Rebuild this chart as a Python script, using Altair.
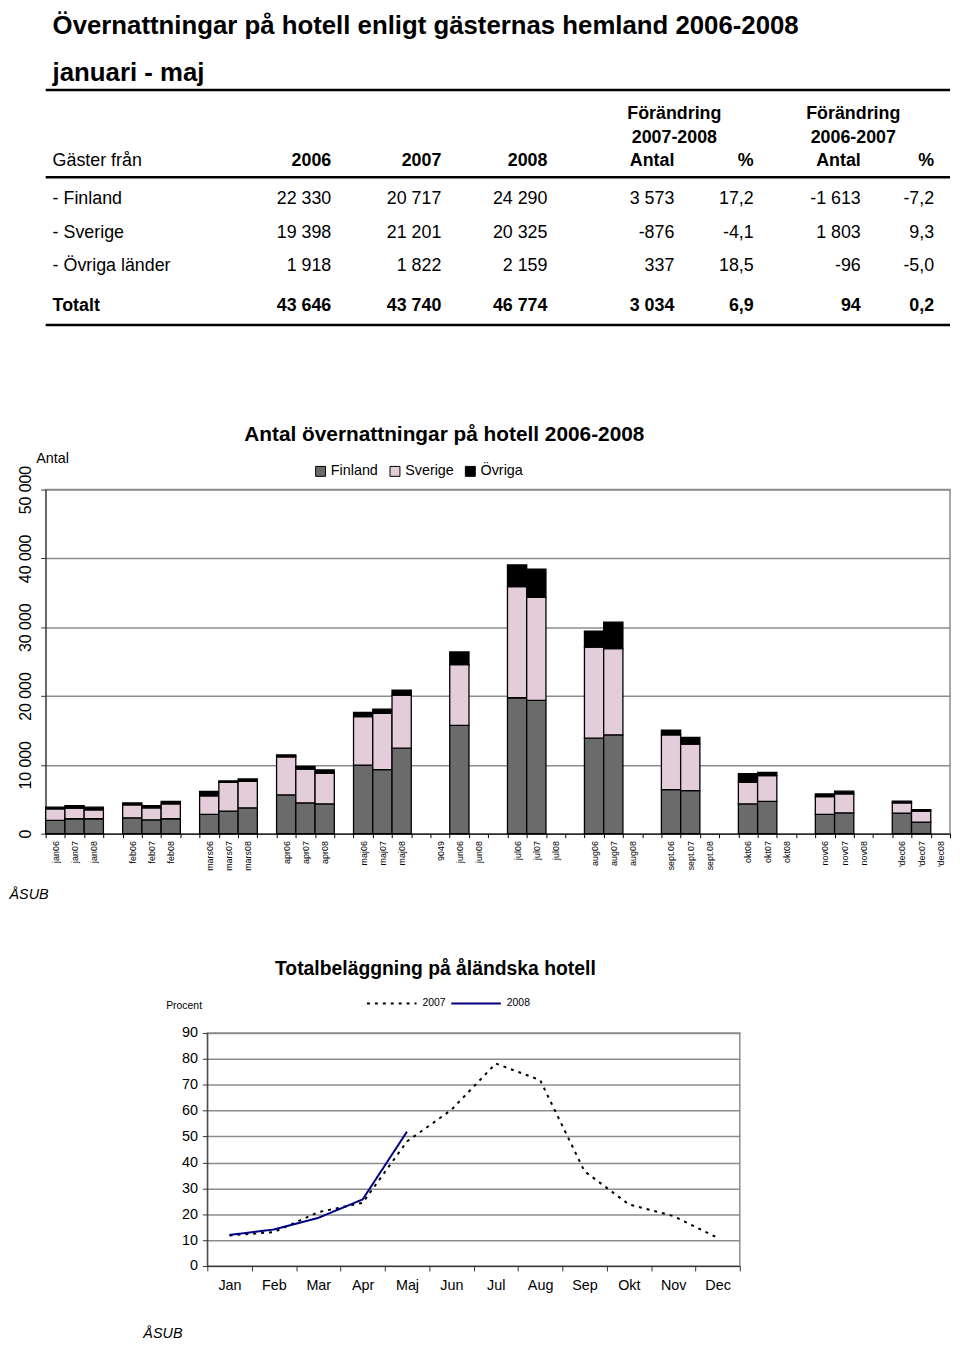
import altair as alt
import pandas as pd

FONT = "Liberation Sans"

# ---------------- Table data ----------------
TITLE = "Övernattningar på hotell enligt gästernas hemland 2006-2008"
SUBTITLE = "januari - maj"
ROW_LABELS = ["- Finland", "- Sverige", "- Övriga länder", "Totalt"]
Y2006 = [22330, 19398, 1918, 43646]
Y2007 = [20717, 21201, 1822, 43740]
Y2008 = [24290, 20325, 2159, 46774]
CH0708_ANTAL = [3573, -876, 337, 3034]
CH0708_PCT = [17.2, -4.1, 18.5, 6.9]
CH0607_ANTAL = [-1613, 1803, -96, 94]
CH0607_PCT = [-7.2, 9.3, -5.0, 0.2]
HEADERS = ["Gäster från", "2006", "2007", "2008", "Antal", "%", "Antal", "%"]
GROUP_HEAD1 = ["Förändring", "Förändring"]
GROUP_HEAD2 = ["2007-2008", "2006-2007"]

# ---------------- Bar chart data ----------------
SLOTS = ["jan06", "jan07", "jan08", " ",
         "feb06", "feb07", "feb08", "  ",
         "mars06", "mars07", "mars08", "   ",
         "apr06", "apr07", "apr08", "    ",
         "maj06", "maj07", "maj08", "     ",
         "9049", "jun06", "jun08", "      ",
         "jul06", "jul07", "jul08", "       ",
         "aug06", "aug07", "aug08", "        ",
         "sept.06", "sept.07", "sept.08", "         ",
         "okt06", "okt07", "okt08", "          ",
         "nov06", "nov07", "nov08", "           ",
         "'dec06", "'dec07", "'dec08"]
BAR_SLOTS = ["jan06", "jan07", "jan08", "feb06", "feb07", "feb08",
             "mars06", "mars07", "mars08", "apr06", "apr07", "apr08",
             "maj06", "maj07", "maj08", "jun06", "jul06", "jul07",
             "aug06", "aug07", "sept.06", "sept.07", "okt06", "okt07",
             "nov06", "nov07", "'dec06", "'dec07"]
FINLAND = [1930, 2170, 2170, 2310, 2020, 2170,
           2800, 3280, 3760, 5640, 4480, 4340,
           9970, 9300, 12430, 15750, 19750, 19360,
           13880, 14360, 6410, 6270, 4340, 4680,
           2800, 3030, 2990, 1690]
SVERIGE = [1680, 1540, 1300, 1880, 1740, 2170,
           2690, 4190, 3860, 5540, 4910, 4430,
           7040, 8190, 7710, 8820, 16150, 14990,
           13240, 12520, 7950, 6740, 3130, 3760,
           2600, 2750, 1490, 1590]
OVRIGA = [250, 350, 380, 280, 300, 350,
          650, 200, 330, 270, 400, 500,
          600, 600, 700, 1830, 3150, 4100,
          2320, 3860, 700, 970, 1250, 480,
          380, 390, 250, 230]
SERIES = ["Finland", "Sverige", "Övriga"]
Y_TICKS = [0, 10000, 20000, 30000, 40000, 50000]

# ---------------- Line chart data ----------------
MONTHS = ["Jan", "Feb", "Mar", "Apr", "Maj", "Jun", "Jul", "Aug", "Sep", "Okt", "Nov", "Dec"]
OCC_2007 = [11.8, 13.1, 20.8, 24.4, 48.1, 60.3, 78.2, 71.8, 36.6, 23.8, 19.3, 10.9]
OCC_2008 = [12.0, 14.1, 18.6, 25.7, 51.9]
YEARS = ["2007", "2008"]
P_TICKS = list(range(0, 91, 10))

# ---------------- Layout / style ----------------
COL_X = [7, 288, 399, 506, 634, 714, 822, 896]     # table column anchors (px)
# logical table rows: title, subtitle, rule, head1, head2, head3, rule, 4 data rows, rule
ROW_Y = [-56, -9, 0, 24, 48, 72, 88, 110, 144, 178, 218, 237]
GROUP_COL = [4, 5.93]
RULE_ROWS = [2, 6, 11]
SERIES_COLORS = ["#6b6b6b", "#e2cdd8", "#000000"]
GRID = "#8c8c8c"


def fmt_int(v):
    return f"{v:,}".replace(",", " ")


def fmt_pct(v):
    return f"{v:.1f}".replace(".", ",")


# ---- build table cells ----
cells = [dict(text=TITLE, col=0, row=0, kind="t"), dict(text=SUBTITLE, col=0, row=1, kind="t")]
for i in range(2):
    cells.append(dict(text=GROUP_HEAD1[i], col=GROUP_COL[i], row=3, kind="cb"))
    cells.append(dict(text=GROUP_HEAD2[i], col=GROUP_COL[i], row=4, kind="cb"))
for c, h in enumerate(HEADERS):
    cells.append(dict(text=h, col=c, row=5, kind="l" if c == 0 else "rb"))
cols = [Y2006, Y2007, Y2008, CH0708_ANTAL, CH0708_PCT, CH0607_ANTAL, CH0607_PCT]
for r, lab in enumerate(ROW_LABELS):
    bold = lab == "Totalt"
    cells.append(dict(text=lab, col=0, row=7 + r, kind="lb" if bold else "l"))
    for c, arr in enumerate(cols):
        v = arr[r]
        t = fmt_pct(v) if c in (4, 6) else fmt_int(v)
        cells.append(dict(text=t, col=c + 1, row=7 + r, kind="rb" if bold else "r"))
cells_df = pd.DataFrame(cells)
lines_df = pd.DataFrame({"row": RULE_ROWS})

xs = alt.Scale(domain=list(range(len(COL_X))), range=COL_X, nice=False, zero=False)
ys = alt.Scale(domain=list(range(len(ROW_Y))), range=ROW_Y, nice=False, zero=False)

tbase = alt.Chart(cells_df).encode(
    x=alt.X("col:Q", scale=xs, axis=None),
    y=alt.Y("row:Q", scale=ys, axis=None),
    text="text:N",
)
kinds = {"l": ("left", "normal", "middle", 18), "lb": ("left", "bold", "middle", 18),
         "r": ("right", "normal", "middle", 18), "rb": ("right", "bold", "middle", 18),
         "cb": ("center", "bold", "middle", 18), "t": ("left", "bold", "alphabetic", 26)}
tlayers = []
for k, (al, fw, bl, fs) in kinds.items():
    tlayers.append(
        tbase.transform_filter(alt.datum.kind == k).mark_text(
            align=al, fontWeight=fw, baseline=bl, fontSize=fs, font=FONT, color="black"
        )
    )
rules = alt.Chart(lines_df).mark_rule(color="black", strokeWidth=2.5).encode(
    y=alt.Y("row:Q", scale=ys, axis=None)
)
table_chart = alt.layer(rules, *tlayers).properties(width=912, height=202)

# ---- bar chart ----
brows = []
for i, s in enumerate(BAR_SLOTS):
    for o, (name, arr) in enumerate(zip(SERIES, [FINLAND, SVERIGE, OVRIGA])):
        brows.append(dict(slot=s, serie=name, antal=arr[i], ord=o))
bar_df = pd.DataFrame(brows)

bar_chart = alt.Chart(bar_df).mark_bar(stroke="black", strokeWidth=1.3).encode(
    x=alt.X(
        "slot:N",
        scale=alt.Scale(domain=SLOTS, paddingInner=0, paddingOuter=0),
        axis=alt.Axis(
            labelAngle=-90, labelFontSize=9, labelFont=FONT, labelColor="black",
            labelOverlap=False, tickBand="extent", tickSize=4, labelPadding=3,
            domainColor="black", tickColor="black", grid=False,
            title="ÅSUB", titleFontStyle="italic", titleFontWeight="normal",
            titleFontSize=14.5, titleFont=FONT, titleX=-37, titleY=65,
            titleAlign="left", titleBaseline="alphabetic", titleColor="black",
        ),
    ),
    y=alt.Y(
        "antal:Q",
        stack="zero",
        scale=alt.Scale(domain=[0, 50000]),
        axis=alt.Axis(
            values=Y_TICKS, labelExpr="replace(format(datum.value, ','), ',', ' ')",
            labelAngle=-90, labelAlign="center", labelBaseline="bottom",
            labelFontSize=16, labelFont=FONT, labelColor="black", labelPadding=7,
            tickSize=5, tickColor="#333", domainColor="#333",
            grid=True, gridColor=GRID, gridWidth=1.5,
            title="Antal", titleAngle=0, titleFontSize=14.5, titleFontWeight="normal",
            titleFont=FONT, titleX=-10, titleY=-27, titleAlign="left",
            titleBaseline="alphabetic", titleColor="black",
        ),
    ),
    color=alt.Color(
        "serie:N",
        scale=alt.Scale(domain=SERIES, range=SERIES_COLORS),
        legend=alt.Legend(
            orient="none", legendX=270, legendY=-26, direction="horizontal", title=None,
            symbolType="square", symbolSize=100, symbolStrokeColor="black",
            symbolStrokeWidth=1, labelFontSize=14.5, labelFont=FONT, labelColor="black",
            columnPadding=9, labelOffset=3,
        ),
    ),
    order=alt.Order("ord:Q", sort="ascending"),
).properties(
    width=912,
    height=347,
    title=alt.TitleParams(
        text="Antal övernattningar på hotell 2006-2008", fontSize=21, font=FONT,
        fontWeight="bold", anchor="middle", frame="group", dx=-54, offset=-11,
        baseline="alphabetic", color="black",
    ),
    view=alt.ViewBackground(stroke=GRID, strokeWidth=1.5),
)

# ---- line chart ----
lrows = []
for m, v in zip(MONTHS, OCC_2007):
    lrows.append(dict(month=m, year="2007", procent=v))
for m, v in zip(MONTHS, OCC_2008):
    lrows.append(dict(month=m, year="2008", procent=v))
line_df = pd.DataFrame(lrows)

line_leg = alt.Legend(
    orient="none", legendX=323, legendY=-56, direction="horizontal", title=None,
    symbolType="stroke", symbolSize=2500, symbolStrokeWidth=2, labelFontSize=10.5,
    labelFont=FONT, labelColor="black", columnPadding=1, labelOffset=5,
)
line_chart = alt.Chart(line_df).mark_line(strokeWidth=2).encode(
    x=alt.X(
        "month:N",
        scale=alt.Scale(type="band", domain=MONTHS, paddingInner=0, paddingOuter=0),
        bandPosition=0.5,
        axis=alt.Axis(
            labelAngle=0, labelFontSize=14.5, labelFont=FONT, labelColor="black",
            tickBand="extent", tickSize=5, labelPadding=8, grid=False,
            domainColor="#333", tickColor="#333",
            title="ÅSUB", titleFontStyle="italic", titleFontWeight="normal",
            titleFontSize=14.5, titleFont=FONT, titleX=-65, titleY=72,
            titleAlign="left", titleBaseline="alphabetic", titleColor="black",
        ),
    ),
    y=alt.Y(
        "procent:Q",
        scale=alt.Scale(domain=[0, 90]),
        axis=alt.Axis(
            values=P_TICKS, labelFontSize=14.5, labelFont=FONT, labelColor="black",
            tickSize=5, labelPadding=5, tickColor="#333", domainColor="#333",
            grid=True, gridColor=GRID, gridWidth=1.5,
            title="Procent", titleAngle=0, titleFontSize=10.5, titleFontWeight="normal",
            titleFont=FONT, titleX=-42, titleY=-25, titleAlign="left",
            titleBaseline="alphabetic", titleColor="black",
        ),
    ),
    color=alt.Color("year:N", scale=alt.Scale(domain=YEARS, range=["black", "#000080"]),
                    legend=line_leg),
    strokeDash=alt.StrokeDash("year:N", scale=alt.Scale(domain=YEARS, range=[[3, 5], [1, 0]]),
                              legend=line_leg),
).properties(
    width=537,
    height=235,
    title=alt.TitleParams(
        text="Totalbeläggning på åländska hotell", fontSize=19.5, font=FONT,
        fontWeight="bold", anchor="middle", frame="group", dx=-38.5, offset=6,
        baseline="alphabetic", color="black",
    ),
    view=alt.ViewBackground(stroke=GRID, strokeWidth=1.5),
)

spacer = alt.Chart(pd.DataFrame({"v": [0]})).mark_point(opacity=0).properties(
    width=163, height=235
)
bottom_row = alt.hconcat(spacer, line_chart, spacing=0, bounds="flush")

chart = alt.vconcat(table_chart, bar_chart, bottom_row, spacing=201, bounds="flush").resolve_scale(
    color="independent", strokeDash="independent"
).resolve_legend(
    color="independent", strokeDash="independent"
).properties(
    padding={"left": 0, "top": 0, "right": 0, "bottom": 0},
    background="white",
).configure(font=FONT).configure_view(strokeWidth=0)

chart.save("out.html", embed_options={"renderer": "svg", "actions": False})
